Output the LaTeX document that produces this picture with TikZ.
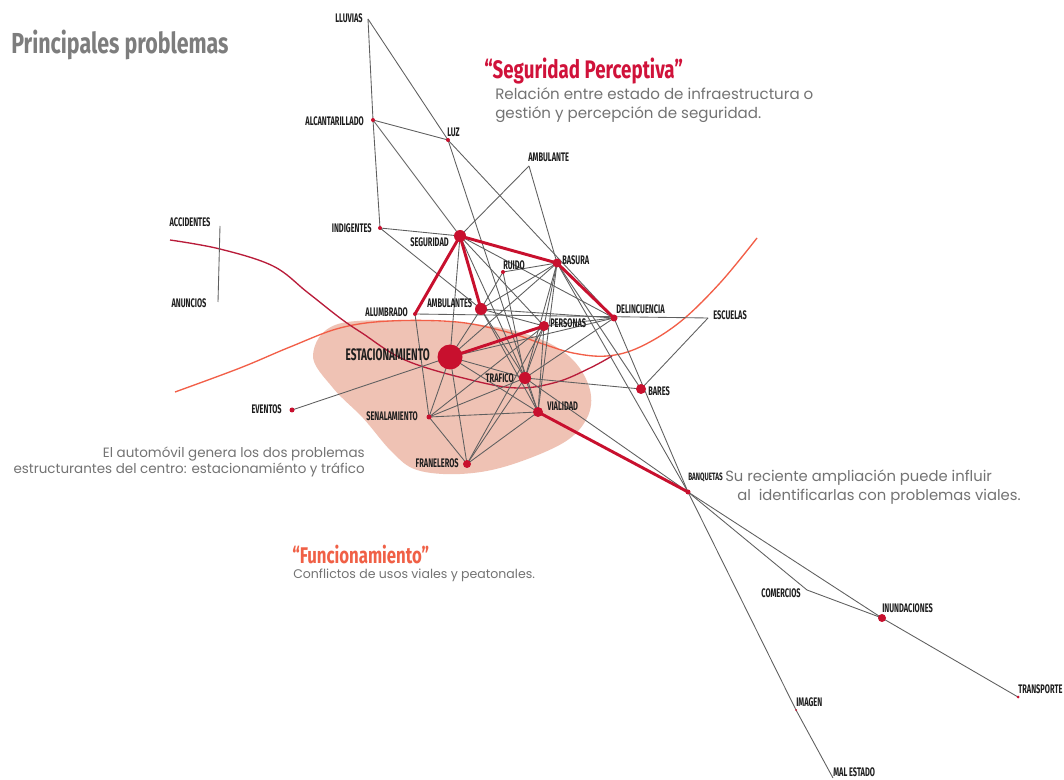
\documentclass[tikz,border=0pt]{standalone}
\usepackage{fontspec}
\setmainfont{Poppins}
\newfontfamily\labfont{Fira Sans}[FakeStretch=0.6]
\newfontfamily\titfont{Fira Sans}[FakeStretch=0.74]
\newfontfamily\bodyfont{Poppins}
\definecolor{nred}{RGB}{200,16,46}
\definecolor{egray}{RGB}{95,95,95}
\definecolor{blobc}{RGB}{239,194,180}
\definecolor{cdark}{RGB}{185,28,58}
\definecolor{corange}{RGB}{242,95,72}
\definecolor{txtgray}{RGB}{115,115,115}
\definecolor{titgray}{RGB}{125,125,125}
\definecolor{segred}{RGB}{208,18,58}
\definecolor{funcor}{RGB}{240,96,70}
\definecolor{labblack}{RGB}{30,30,30}
\begin{document}
\begin{tikzpicture}[x=0.75pt,y=-0.75pt,
  edge/.style={draw=egray,line width=0.65pt},
  redge/.style={draw=nred,line width=2.2pt},
  rdot/.style={circle,fill=nred,inner sep=0pt,minimum size=#1},
  lab/.style={font=\labfont\bfseries\fontsize{9.3}{10}\selectfont,text=labblack,inner sep=0pt},
  labbig/.style={font=\labfont\bfseries\fontsize{12.5}{13}\selectfont,text=labblack,inner sep=0pt},
  body/.style={font=\bodyfont\fontsize{#1}{#1}\selectfont,text=txtgray,inner sep=0pt}]
\useasboundingbox (0,0) rectangle (1064,780);
\fill[white] (0,0) rectangle (1064,780);

% positions
\coordinate (LL) at (368,19);
\coordinate (AL) at (373,120);
\coordinate (LZ) at (448,140);
\coordinate (AB) at (529,166);
\coordinate (IN) at (380,228);
\coordinate (SE) at (460,236);
\coordinate (RU) at (503,272);
\coordinate (BA) at (557,263);
\coordinate (AM) at (481,309);
\coordinate (ALU) at (415,314);
\coordinate (DE) at (614,318);
\coordinate (PE) at (544,326);
\coordinate (ES) at (708,318);
\coordinate (EST) at (450,357);
\coordinate (TR) at (525,378);
\coordinate (BR) at (641,389);
\coordinate (VI) at (538,412);
\coordinate (SN) at (429,417);
\coordinate (FR) at (467,464);
\coordinate (EV) at (292,410);
\coordinate (BQ) at (688,492);
\coordinate (CO) at (807,590);
\coordinate (INU) at (882,618);
\coordinate (TRP) at (1018,697);
\coordinate (IM) at (796,710);
\coordinate (ME) at (833,778);
\coordinate (ACC) at (220,226);
\coordinate (ANU) at (218,302);

% blob
\fill[blobc] plot[smooth cycle,tension=0.6] coordinates {(313,355) (338,324) (423,321) (490,326) (540,339) (573,360) (590,390) (587,418) (563,443) (507,466) (460,474) (417,470) (392,452) (363,418) (333,388)};

% curves
\draw[corange,line width=1pt] plot[smooth,tension=0.6] coordinates {(175,392) (240,368) (290,347) (340,328) (390,321) (457,322) (507,332) (540,343) (573,353) (607,356) (640,347) (680,322) (720,283) (757,238)};
\draw[cdark,line width=1pt] plot[smooth,tension=0.6] coordinates {(170,240) (220,249) (273,266) (307,292) (340,318) (362,333) (405,360) (467,379) (517,388) (557,382) (590,368) (612,356)};

% gray connectors
\foreach \a/\b in {LL/AL, AL/IN, LL/LZ, AL/LZ, AL/SE, LZ/DE, LZ/VI, AB/SE, AB/BA, IN/SE, IN/AM,
  SE/PE, SE/TR, SE/EST, SE/DE, RU/BA, RU/AM, RU/TR, BA/AM, BA/PE, BA/TR, BA/VI, BA/BR, BA/BQ, BA/EST,
  ALU/ES, ALU/SN, AM/DE, AM/VI, AM/TR, AM/EST, AM/PE, DE/PE, DE/TR, DE/BQ, DE/EST, ES/BR,
  PE/VI, PE/TR, PE/SN, PE/FR, EST/TR, EST/VI, EST/SN, EST/FR, EV/EST, TR/SN, TR/FR, TR/BR, TR/BQ, TR/VI,
  VI/SN, VI/FR, SN/FR, BQ/IM, IM/ME, BQ/CO, CO/INU, BQ/INU, INU/TRP, ACC/ANU}
  \draw[edge] (\a) -- (\b);

% red connectors
\foreach \a/\b in {SE/BA, SE/ALU, SE/AM, BA/DE, EST/PE, VI/BQ}
  \draw[redge] (\a) -- (\b);

% dots
\node[rdot=3pt] (dAL) at (AL) {};
\node[rdot=3pt] (dLZ) at (LZ) {};
\node[rdot=3pt] (dIN) at (IN) {};
\node[rdot=9pt] (dSE) at (SE) {};
\node[rdot=3pt] (dRU) at (RU) {};
\node[rdot=6.75pt] (dBA) at (BA) {};
\node[rdot=9pt] (dAM) at (AM) {};
\node[rdot=3pt] (dALU) at (ALU) {};
\node[rdot=5.25pt] (dDE) at (DE) {};
\node[rdot=7.5pt] (dPE) at (PE) {};
\node[rdot=18.75pt] (dEST) at (EST) {};
\node[rdot=9pt] (dTR) at (TR) {};
\node[rdot=7.5pt] (dBR) at (BR) {};
\node[rdot=7.5pt] (dVI) at (VI) {};
\node[rdot=3.75pt] (dSN) at (SN) {};
\node[rdot=6pt] (dFR) at (FR) {};
\node[rdot=3.75pt] (dEV) at (EV) {};
\node[rdot=3.75pt] (dBQ) at (BQ) {};
\node[rdot=6pt] (dINU) at (INU) {};
\node[rdot=2.25pt] (dTRP) at (TRP) {};
\node[rdot=1.5pt] (dIM) at (IM) {};

% node labels
\node[lab,anchor=east] (tLL) at (363,18) {LLUVIAS};
\node[lab,anchor=east] (tAL) at (364,121) {ALCANTARILLADO};
\node[lab,anchor=west] (tLZ) at (447,132) {LUZ};
\node[lab,anchor=west] (tAB) at (528,157) {AMBULANTE};
\node[lab,anchor=east] (tIN) at (372,228) {INDIGENTES};
\node[lab,anchor=east] (tSE) at (449,242) {SEGURIDAD};
\node[lab,anchor=west] (tRU) at (503,265) {RUIDO};
\node[lab,anchor=west] (tBA) at (562,260) {BASURA};
\node[lab,anchor=west] (tAM) at (427,303) {AMBULANTES};
\node[lab,anchor=east] (tALU) at (408,312) {ALUMBRADO};
\node[lab,anchor=west] (tDE) at (616,309) {DELINCUENCIA};
\node[lab,anchor=west] (tPE) at (550,323) {PERSONAS};
\node[lab,anchor=west] (tES) at (713,315) {ESCUELAS};
\node[labbig,anchor=east] (tEST) at (430,355) {ESTACIONAMIENTO};
\node[lab,anchor=east] (tTR) at (514,378) {TRAFICO};
\node[lab,anchor=west] (tBR) at (648,391) {BARES};
\node[lab,anchor=west] (tVI) at (547,406) {VIALIDAD};
\node[lab,anchor=east] (tSN) at (418,416) {SENALAMIENTO};
\node[lab,anchor=east] (tFR) at (459,463) {FRANELEROS};
\node[lab,anchor=east] (tEV) at (282,409) {EVENTOS};
\node[lab] (tACC) at (190,222) {ACCIDENTES};
\node[lab] (tANU) at (189,303) {ANUNCIOS};
\node[lab,anchor=west,font=\labfont\bfseries\fontsize{8}{8}\selectfont] (tBQ) at (688,477) {BANQUETAS};
\node[lab,anchor=east] (tCO) at (801,593) {COMERCIOS};
\node[lab,anchor=west] (tINU) at (882,608) {INUNDACIONES};
\node[lab,anchor=west] (tTRP) at (1018,689) {TRANSPORTE};
\node[lab,anchor=west] (tIM) at (796,702) {IMAGEN};
\node[lab,anchor=west] (tME) at (833,772) {MAL ESTADO};

% text blocks
\node[anchor=base west,inner sep=0pt,font=\titfont\bfseries\fontsize{21.7}{22}\selectfont,text=titgray] (title) at (11,54) {Principales problemas};
\node[anchor=base west,inner sep=0pt,font=\titfont\bfseries\fontsize{19}{19}\selectfont,text=segred] (seg) at (484,79) {“Seguridad Perceptiva”};
\node[body=11.3,anchor=base west] (seg1) at (495,100) {Relación entre estado de infraestructura o};
\node[body=11.3,anchor=base west] (seg2) at (495,119) {gestión y percepción de seguridad.};
\node[body=10.1,anchor=base east] (auto1) at (365,458) {El automóvil genera los dos problemas};
\node[body=10.1,anchor=base east] (auto2) at (365,474) {estructurantes del centro: estacionamiénto y tráfico};
\node[body=11.1,anchor=base west] (banq1) at (725,482) {Su reciente ampliación puede influir};
\node[body=11.1,anchor=base west] (banq2) at (737,500) {al\ \ identificarlas con problemas viales.};
\node[anchor=base west,inner sep=0pt,font=\titfont\bfseries\fontsize{17}{17}\selectfont,text=funcor] (func) at (292,563) {“Funcionamiento”};
\node[body=9.4,anchor=base west] (func1) at (293,578) {Conflictos de usos viales y peatonales.};
\end{tikzpicture}
\end{document}
